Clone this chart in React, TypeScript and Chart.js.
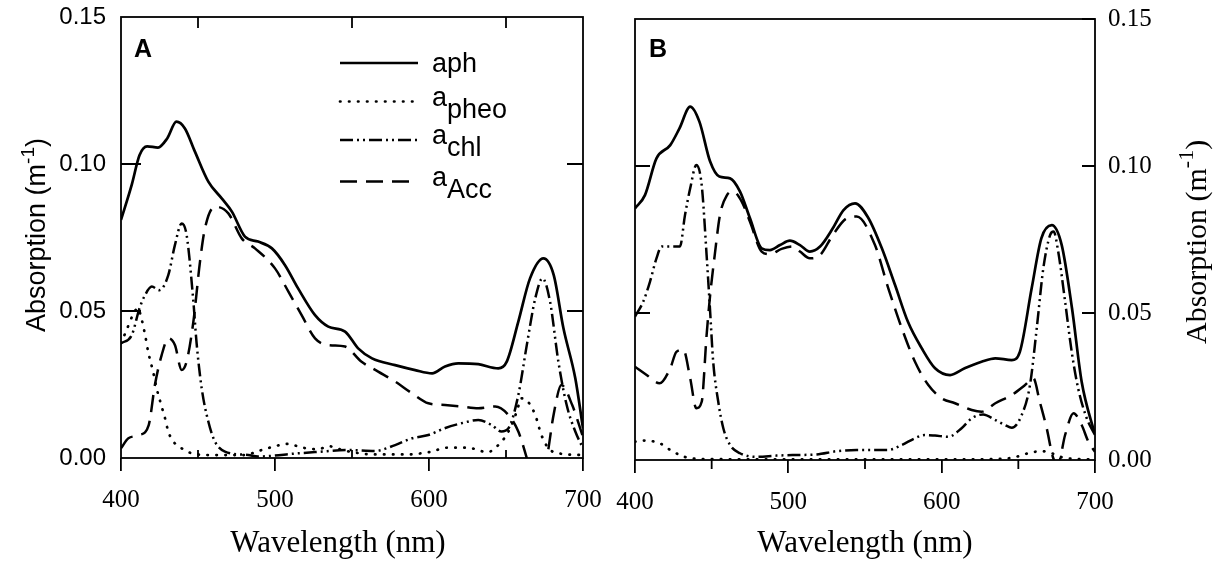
import React, { useEffect, useRef } from 'react';
import { Chart, registerables } from 'chart.js';
Chart.register(...registerables);

type Pt = [number, number];

// ---------- axis ticks ----------
const xTicks = [400, 500, 600, 700];
const xMinorTicks = [450, 550, 650];
const yTicks = [0, 0.05, 0.1, 0.15];
const yTickLabels = ['0.00', '0.05', '0.10', '0.15'];

// ---------- legend ----------
const legendMain = ['aph', 'a', 'a', 'a'];
const legendSub = ['', 'pheo', 'chl', 'Acc'];

// ---------- Panel A data (wavelength nm, absorption m^-1) ----------
const aphA: Pt[] = [
  [400, 0.081], [407, 0.093], [412, 0.103], [417, 0.106], [424, 0.1056], [430, 0.1087],
  [436, 0.1144], [441.5, 0.1121], [448, 0.1042], [456.7, 0.094], [465.4, 0.0883],
  [472, 0.0838], [480.5, 0.0753], [489, 0.0736], [498, 0.0713], [506.5, 0.0656],
  [515, 0.0577], [526, 0.0486], [534.6, 0.0447], [545.5, 0.043], [554, 0.0373],
  [563, 0.0339], [578, 0.0316], [591, 0.0299], [602, 0.0288], [610.4, 0.0311],
  [619, 0.0322], [632, 0.0319], [645, 0.0305], [650.5, 0.0328], [658, 0.0464],
  [665.6, 0.0611], [674.3, 0.0679], [681, 0.0622], [687.3, 0.0441], [695, 0.0271],
  [700, 0.0101],
];
const apheoA: Pt[] = [
  [400, 0.039], [404, 0.044], [408, 0.049], [411, 0.051], [413, 0.048], [415.6, 0.042],
  [417.7, 0.036], [421, 0.029], [423, 0.024], [426.4, 0.0175], [428.6, 0.0135],
  [430.7, 0.009], [434, 0.0056], [439.4, 0.0033], [446, 0.0016], [460, 0.001],
  [480, 0.001], [490, 0.0025], [500, 0.004], [508, 0.0048], [518, 0.0035], [528, 0.003],
  [535, 0.004], [542, 0.003], [550, 0.002], [565, 0.0012], [585, 0.0012], [600, 0.002],
  [612, 0.0035], [625, 0.0035], [638, 0.002], [645, 0.0044], [651.6, 0.009],
  [657, 0.0158], [660, 0.0203], [664.5, 0.019], [669, 0.0146], [673, 0.0078],
  [677.6, 0.0033], [684, 0.0016], [700, 0.001],
];
const achlA: Pt[] = [
  [400, 0.039], [407, 0.0418], [412, 0.0509], [415.6, 0.0554], [420, 0.0583], [425, 0.0571],
  [430.7, 0.0622], [435, 0.0724], [439.4, 0.0798], [442.6, 0.0759], [447, 0.0532],
  [449, 0.0396], [452.4, 0.0237], [456.7, 0.0124], [461, 0.0056], [467.5, 0.0022],
  [482.7, 0.001], [489, 0.0005], [515, 0.0016], [526, 0.002], [547.6, 0.0027],
  [565, 0.0024], [578, 0.0044], [589, 0.0067], [599.6, 0.0078], [610, 0.0101],
  [621, 0.0118], [632, 0.0129], [640.7, 0.0112], [647, 0.009], [651.6, 0.0101],
  [658, 0.0214], [663.5, 0.0384], [669, 0.0543], [673.7, 0.0611], [678.6, 0.0532],
  [684, 0.0328], [689.4, 0.018], [695, 0.009], [700, 0.0033],
];
const accA: Pt[] = [
  [400, 0.0033], [404.8, 0.0067], [412, 0.0078], [418, 0.0112], [422, 0.0248],
  [426.4, 0.035], [430.7, 0.0407], [435, 0.0384], [439.4, 0.0299], [442.6, 0.0328],
  [447, 0.0464], [451.3, 0.0668], [454.5, 0.0781], [461, 0.0855], [469.7, 0.0832],
  [478.4, 0.0747], [487, 0.0713], [500, 0.0645], [508.7, 0.0566], [517.3, 0.0486],
  [526, 0.0407], [534.6, 0.0384], [545.5, 0.0379], [556, 0.0328], [567, 0.0294],
  [578, 0.026], [589, 0.022], [599.6, 0.0186], [610.4, 0.018], [621, 0.0175],
  [632, 0.0169], [643, 0.0175], [651.6, 0.0146], [658, 0.009], [663.5, 0.0],
  [668, -0.008], [672, -0.008], [676.5, 0.0], [681, 0.015], [686, 0.0248],
  [693, 0.018], [699.6, 0.0078],
];

// ---------- Panel B data ----------
const aphB: Pt[] = [
  [400, 0.0856], [406.5, 0.0901], [414, 0.1026], [423, 0.1071], [429, 0.1128],
  [436, 0.1202], [442, 0.1151], [449, 0.1015], [455, 0.0964], [462, 0.0958],
  [468.5, 0.0913], [475, 0.0822], [482.6, 0.072], [488, 0.0714], [494.6, 0.0731],
  [501, 0.0746], [507.6, 0.0731], [514, 0.0709], [520.7, 0.0726], [529, 0.0788],
  [536, 0.085], [543.5, 0.0873], [552, 0.0825], [561, 0.072], [569.6, 0.0595],
  [578, 0.047], [587, 0.038], [595.7, 0.0312], [605.5, 0.0289], [615, 0.0312],
  [626, 0.0334], [635, 0.0346], [645.7, 0.034], [651, 0.0368], [658.7, 0.0584],
  [665, 0.0754], [671.8, 0.0799], [678.3, 0.0731], [685, 0.0516], [691.3, 0.0266],
  [700, 0.0085],
];
const apheoB: Pt[] = [
  [400, 0.0062], [405, 0.0066], [410, 0.0065], [418.5, 0.0051], [423, 0.0034],
  [429.3, 0.0017], [436, 0.0006], [450, 0.0003], [500, 0.0002], [600, 0.0002],
  [640, 0.0004], [648, 0.001], [656.5, 0.0023], [665, 0.003], [671.8, 0.0023],
  [678, 0.001], [690, 0.0003], [700, 0.0002],
];
const achlB: Pt[] = [
  [400, 0.0488], [405.4, 0.0539], [409.8, 0.0607], [414, 0.0686], [417.4, 0.0726],
  [429.3, 0.0726], [432.6, 0.0833], [436, 0.0924], [440, 0.1003], [443.5, 0.0935],
  [446.7, 0.0697], [449, 0.0505], [451, 0.0334], [454.3, 0.0198], [457.6, 0.0108],
  [462, 0.0051], [468.5, 0.0023], [479, 0.0011], [492.4, 0.0015], [505.4, 0.0017],
  [518.5, 0.0019], [531.5, 0.003], [544.6, 0.0034], [565, 0.0034], [574, 0.0051],
  [582.6, 0.0074], [589, 0.0085], [595.7, 0.0083], [604.4, 0.0079], [613, 0.0108],
  [619.6, 0.0142], [627, 0.0155], [635, 0.0136], [641.3, 0.0119], [645.7, 0.011],
  [652.2, 0.0153], [657.6, 0.0255], [662, 0.0448], [666.3, 0.0652], [670.7, 0.0765],
  [673, 0.0777], [676, 0.0709], [680.5, 0.0539], [684.8, 0.0368], [689, 0.0244],
  [694.6, 0.0142], [700, 0.0085],
];
const accB: Pt[] = [
  [400, 0.0317], [407.6, 0.0289], [416, 0.0261], [423, 0.0312], [427, 0.0368],
  [431.5, 0.0375], [436, 0.0278], [440, 0.0176], [443.5, 0.0198], [446.7, 0.0425],
  [449, 0.0561], [452, 0.0697], [455.4, 0.0833], [460, 0.0901], [464, 0.0913],
  [469.6, 0.0879], [475, 0.081], [482.6, 0.0709], [488, 0.07], [495.6, 0.0718],
  [503, 0.0726], [507.6, 0.0709], [514, 0.0686], [520.7, 0.0697], [529, 0.0765],
  [538, 0.0822], [544.6, 0.0828], [556.5, 0.0731], [565.2, 0.0584], [574, 0.0448],
  [582.6, 0.0334], [591.3, 0.0255], [600, 0.021], [608.7, 0.0193], [619.6, 0.017],
  [626, 0.0164], [635, 0.0193], [645.7, 0.0221], [654.4, 0.0255], [659.8, 0.0278],
  [664, 0.0198], [668.5, 0.0108], [672.8, 0.0006], [676, -0.001], [680.5, 0.0085],
  [686, 0.0159], [691.3, 0.0119], [695.7, 0.0062], [700, 0.0028],
];

// ---------- styles ----------
const SANS = '"Liberation Sans", Arial, sans-serif';
const SERIF = '"Liberation Serif", "Times New Roman", serif';
const seriesStyle = [
  { width: 2.7, dash: [] as number[], cap: 'butt' },
  { width: 2.7, dash: [0.5, 8.5], cap: 'round' },
  { width: 2.5, dash: [13, 4, 2, 4, 2, 4], cap: 'butt' },
  { width: 2.5, dash: [17, 9], cap: 'butt' },
];

function makeDatasets(series: Pt[][]) {
  return series.map((s, i) => ({
    label: legendMain[i] + legendSub[i],
    data: s.map(([x, y]) => ({ x, y })),
    borderColor: '#000',
    backgroundColor: '#000',
    borderWidth: seriesStyle[i].width,
    borderDash: seriesStyle[i].dash,
    borderCapStyle: seriesStyle[i].cap,
    pointRadius: 0,
    fill: false,
    cubicInterpolationMode: 'monotone',
  }));
}

type PanelCfg = {
  side: 'left' | 'right';
  leftIn: number[]; leftLen: number;
  rightIn: number[]; rightLen: number;
  topIn: number[]; topLen: number;
  bottomIn: number[]; bottomInLen: number;
  bottomOut: number[]; bottomOutLen: number;
  letter: string; letterX: number; letterY: number;
  xTitleX: number; xTitleY: number; xTitleSize: number;
  yTitleFamily: string; yTitleSize: number; yTitleX: number; yTitleStartY: number;
  legend: boolean;
};

function drawRotatedTitle(ctx: CanvasRenderingContext2D, cfg: PanelCfg) {
  const f = cfg.yTitleSize;
  const main = `${f}px ${cfg.yTitleFamily}`;
  const sup = `${Math.round(f * 0.72)}px ${cfg.yTitleFamily}`;
  ctx.save();
  ctx.translate(cfg.yTitleX, cfg.yTitleStartY);
  ctx.rotate(-Math.PI / 2);
  ctx.fillStyle = '#000';
  ctx.textAlign = 'left';
  ctx.textBaseline = 'alphabetic';
  let cx = 0;
  ctx.font = main;
  ctx.fillText('Absorption (m', cx, 0);
  cx += ctx.measureText('Absorption (m').width;
  ctx.font = sup;
  ctx.fillText('-1', cx, -f * 0.42);
  cx += ctx.measureText('-1').width;
  ctx.font = main;
  ctx.fillText(')', cx, 0);
  ctx.restore();
}

function decorPlugin(cfg: PanelCfg) {
  return {
    id: 'panelDecor',
    afterDraw(chart: any) {
      const ctx: CanvasRenderingContext2D = chart.ctx;
      const { left, right, top, bottom } = chart.chartArea;
      const xs = chart.scales.x;
      const ys = chart.scales.y;
      ctx.save();
      ctx.strokeStyle = '#000';
      ctx.lineWidth = 1.8;
      ctx.setLineDash([]);
      ctx.lineCap = 'butt';
      ctx.strokeRect(left, top, right - left, bottom - top);
      ctx.beginPath();
      cfg.leftIn.forEach((v) => { const y = ys.getPixelForValue(v); ctx.moveTo(left, y); ctx.lineTo(left + cfg.leftLen, y); });
      cfg.rightIn.forEach((v) => { const y = ys.getPixelForValue(v); ctx.moveTo(right, y); ctx.lineTo(right - cfg.rightLen, y); });
      cfg.topIn.forEach((v) => { const x = xs.getPixelForValue(v); ctx.moveTo(x, top); ctx.lineTo(x, top + cfg.topLen); });
      cfg.bottomIn.forEach((v) => { const x = xs.getPixelForValue(v); ctx.moveTo(x, bottom); ctx.lineTo(x, bottom - cfg.bottomInLen); });
      cfg.bottomOut.forEach((v) => { const x = xs.getPixelForValue(v); ctx.moveTo(x, bottom); ctx.lineTo(x, bottom + cfg.bottomOutLen); });
      ctx.stroke();

      // panel letter
      ctx.fillStyle = '#000';
      ctx.font = `bold 25px ${SANS}`;
      ctx.textAlign = 'left';
      ctx.textBaseline = 'alphabetic';
      ctx.fillText(cfg.letter, cfg.letterX, cfg.letterY);

      // x title
      ctx.font = `${cfg.xTitleSize}px ${SERIF}`;
      ctx.textAlign = 'center';
      ctx.fillText('Wavelength (nm)', cfg.xTitleX, cfg.xTitleY);

      // y title
      drawRotatedTitle(ctx, cfg);

      // legend
      if (cfg.legend) {
        const rows = [63, 101.5, 140, 181.5];
        const x0 = 340, x1 = 418, tx = 432;
        rows.forEach((ry, i) => {
          const st = seriesStyle[i];
          ctx.beginPath();
          ctx.lineWidth = st.width;
          ctx.setLineDash(st.dash);
          ctx.lineCap = st.cap as CanvasLineCap;
          ctx.moveTo(x0, ry);
          ctx.lineTo(x1, ry);
          ctx.stroke();
          ctx.setLineDash([]);
          ctx.lineCap = 'butt';
          ctx.font = `27px ${SANS}`;
          ctx.textAlign = 'left';
          if (!legendSub[i]) {
            ctx.fillText(legendMain[i], tx, ry + 9);
          } else {
            ctx.fillText(legendMain[i], tx, ry + 4);
            const w = ctx.measureText(legendMain[i]).width;
            ctx.fillText(legendSub[i], tx + w, ry + 16);
          }
        });
      }
      ctx.restore();
    },
  };
}

function buildConfig(series: Pt[][], cfg: PanelCfg, yWidth: number, xHeight: number, padding: any) {
  return {
    type: 'line' as const,
    data: { datasets: makeDatasets(series) },
    options: {
      responsive: false,
      animation: false,
      events: [],
      layout: { padding },
      plugins: { legend: { display: false }, tooltip: { enabled: false } },
      scales: {
        x: {
          type: 'linear',
          min: 400,
          max: 700,
          position: 'bottom',
          afterBuildTicks: (s: any) => { s.ticks = xTicks.map((v) => ({ value: v })); },
          afterFit: (s: any) => { s.height = xHeight; s.paddingLeft = 0; s.paddingRight = 0; },
          ticks: {
            font: { family: SERIF, size: 25 },
            color: '#000',
            padding: 14,
            maxRotation: 0,
            autoSkip: false,
            callback: (v: any) => String(v),
          },
          grid: { display: true, drawOnChartArea: false, drawTicks: true, tickLength: 13, color: '#000', lineWidth: 1.8 },
          border: { display: false },
        },
        y: {
          type: 'linear',
          min: 0,
          max: 0.15,
          position: cfg.side,
          afterBuildTicks: (s: any) => { s.ticks = yTicks.map((v) => ({ value: v })); },
          afterFit: (s: any) => { s.width = yWidth; s.paddingTop = 0; s.paddingBottom = 0; },
          ticks: {
            font: { family: cfg.side === 'left' ? SANS : SERIF, size: cfg.side === 'left' ? 24 : 25 },
            color: '#000',
            padding: cfg.side === 'left' ? 15 : 13,
            callback: (_v: any, i: number) => yTickLabels[i],
          },
          grid: { display: false, drawTicks: false },
          border: { display: false },
        },
      },
    },
    plugins: [decorPlugin(cfg)],
  };
}

const cfgA: PanelCfg = {
  side: 'left',
  leftIn: [0.05, 0.1], leftLen: 20,
  rightIn: [0.05, 0.1], rightLen: 16,
  topIn: xMinorTicks, topLen: 11,
  bottomIn: xMinorTicks, bottomInLen: 8,
  bottomOut: [], bottomOutLen: 0,
  letter: 'A', letterX: 134, letterY: 57,
  xTitleX: 338, xTitleY: 552, xTitleSize: 31,
  yTitleFamily: SANS, yTitleSize: 27, yTitleX: 45, yTitleStartY: 332,
  legend: true,
};

const cfgB: PanelCfg = {
  side: 'right',
  leftIn: [0.05, 0.1], leftLen: 15,
  rightIn: [0.05, 0.1, 0.15], rightLen: 13,
  topIn: [], topLen: 0,
  bottomIn: [], bottomInLen: 0,
  bottomOut: xMinorTicks, bottomOutLen: 9,
  letter: 'B', letterX: 37, letterY: 57,
  xTitleX: 253, xTitleY: 552, xTitleSize: 31,
  yTitleFamily: SERIF, yTitleSize: 30, yTitleX: 594, yTitleStartY: 344,
  legend: false,
};

export default function App() {
  const refA = useRef<HTMLCanvasElement>(null);
  const refB = useRef<HTMLCanvasElement>(null);
  useEffect(() => {
    const a = new Chart(refA.current as HTMLCanvasElement, buildConfig([aphA, apheoA, achlA, accA], cfgA, 121, 104, { left: 0, right: 29, top: 17, bottom: 0 }) as any);
    const b = new Chart(refB.current as HTMLCanvasElement, buildConfig([aphB, apheoB, achlB, accB], cfgB, 130, 102, { left: 23, right: 0, top: 19, bottom: 0 }) as any);
    return () => { a.destroy(); b.destroy(); };
  }, []);
  return (
    <div style={{ position: 'fixed', left: 0, top: 0, width: 1225, height: 562, background: '#fff' }}>
      <canvas ref={refA} width={612} height={562} style={{ position: 'absolute', left: 0, top: 0, width: 612, height: 562 }} />
      <canvas ref={refB} width={613} height={562} style={{ position: 'absolute', left: 612, top: 0, width: 613, height: 562 }} />
    </div>
  );
}
